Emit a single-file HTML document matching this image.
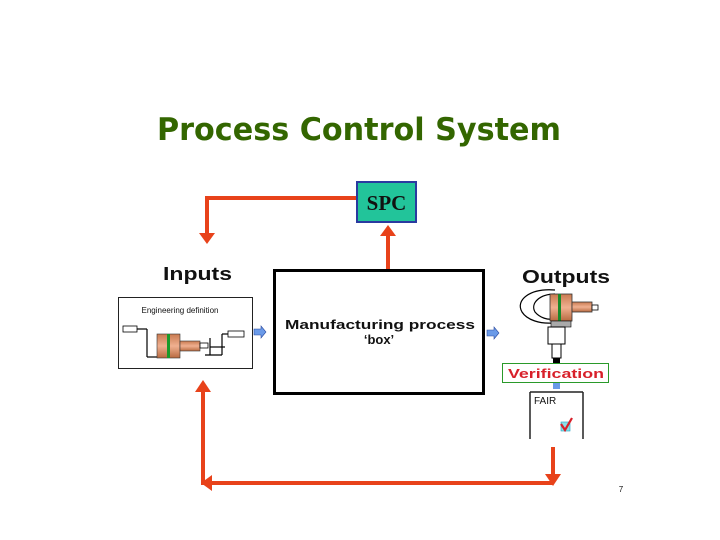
<!DOCTYPE html>
<html><head><style>html,body{margin:0;padding:0;background:#fff}svg{display:block}</style></head><body>
<svg width="720" height="540" viewBox="0 0 720 540" xmlns="http://www.w3.org/2000/svg">
<defs>
<linearGradient id="cu" x1="0" y1="0" x2="0" y2="1"><stop offset="0" stop-color="#c97a50"/><stop offset=".5" stop-color="#f0b090"/><stop offset="1" stop-color="#b86a40"/></linearGradient>
</defs>
<rect width="720" height="540" fill="#fff"/>
<text x="157" y="140" font-family="DejaVu Sans, sans-serif" font-weight="bold" font-size="31" fill="#336600" textLength="404" lengthAdjust="spacingAndGlyphs">Process Control System</text>

<!-- SPC -->
<rect x="357" y="182" width="59" height="40" fill="#22c49a" stroke="#2a3aa0" stroke-width="2"/>
<text x="386.5" y="210" text-anchor="middle" font-family="Liberation Serif, serif" font-weight="bold" font-size="21" fill="#111">SPC</text>

<g stroke="#e8421a" stroke-width="4" fill="none">
<polyline points="356,198 207,198 207,234"/>
<line x1="388" y1="269" x2="388" y2="234"/>
<line x1="553" y1="447" x2="553" y2="476"/>
<polyline points="553,483 203,483 203,390"/>
</g>
<g fill="#e8421a">
<polygon points="199,233 215,233 207,244"/>
<polygon points="380,236 396,236 388,225"/>
<polygon points="545,474 561,474 553,486"/>
<polygon points="212,475 212,491 201,483"/>
<polygon points="195,392 211,392 203,380"/>
</g>

<!-- main box -->
<rect x="274.5" y="270.5" width="209" height="123" fill="#fff" stroke="#000" stroke-width="3"/>
<text x="380" y="329" text-anchor="middle" font-family="Liberation Sans, sans-serif" font-weight="bold" font-size="13" fill="#111" textLength="190" lengthAdjust="spacingAndGlyphs">Manufacturing process</text>
<text x="379" y="344" text-anchor="middle" font-family="Liberation Sans, sans-serif" font-weight="bold" font-size="13" fill="#111">‘box’</text>

<!-- Inputs -->
<text x="163" y="280" font-family="Liberation Sans, sans-serif" font-weight="bold" font-size="18" fill="#111" textLength="69" lengthAdjust="spacingAndGlyphs">Inputs</text>
<rect x="118.5" y="297.5" width="134" height="71" fill="#fff" stroke="#222" stroke-width="1"/>
<text x="180" y="313" text-anchor="middle" font-family="Liberation Sans, sans-serif" font-size="8" fill="#111">Engineering definition</text>
<rect x="123" y="326" width="14" height="6" fill="#fff" stroke="#000" stroke-width=".8"/>
<rect x="228" y="331" width="16" height="6" fill="#fff" stroke="#000" stroke-width=".8"/>
<g stroke="#000" stroke-width="1.2" fill="none">
<line x1="137" y1="329" x2="147" y2="329"/><line x1="147" y1="329" x2="147" y2="357"/><line x1="147" y1="357" x2="160" y2="357"/>
<line x1="210" y1="338" x2="210" y2="355"/><line x1="210" y1="347" x2="225" y2="347"/><line x1="205" y1="355" x2="222" y2="355"/><line x1="222" y1="334" x2="228" y2="334"/><line x1="222" y1="334" x2="222" y2="355"/>
</g>
<rect x="157" y="334" width="23" height="24" fill="url(#cu)" stroke="#333" stroke-width=".6"/>
<rect x="167" y="334" width="3" height="24" fill="#1a9a2a"/>
<rect x="180" y="341" width="20" height="10" fill="url(#cu)" stroke="#333" stroke-width=".6"/>
<rect x="200" y="343" width="8" height="5" fill="#fff" stroke="#000" stroke-width=".8"/>
<polygon points="254,329 261,329 261,326 266,332 261,338 261,335 254,335" fill="#6a9ae8" stroke="#2a4aa0" stroke-width=".6"/>

<!-- Outputs -->
<text x="522" y="283" font-family="Liberation Sans, sans-serif" font-weight="bold" font-size="18" fill="#111" textLength="88" lengthAdjust="spacingAndGlyphs">Outputs</text>
<polygon points="487,330 494,330 494,327 499,333 494,339 494,336 487,336" fill="#6a9ae8" stroke="#2a4aa0" stroke-width=".6"/>
<g stroke="#000" stroke-width="1.2" fill="none">
<path d="M555,290 C530,288 515,300 522,312 C527,320 540,324 553,323"/>
<path d="M555,294 C540,294 530,303 535,312 C540,318 548,320 553,319"/>
</g>
<rect x="550" y="294" width="22" height="27" fill="url(#cu)" stroke="#333" stroke-width=".8"/>
<rect x="558" y="294" width="3" height="27" fill="#1a8a2a"/>
<rect x="572" y="302" width="20" height="10" fill="url(#cu)" stroke="#333" stroke-width=".8"/>
<rect x="592" y="305" width="6" height="5" fill="#fff" stroke="#000" stroke-width=".8"/>
<rect x="551" y="321" width="20" height="6" fill="#aaa" stroke="#000" stroke-width=".6"/>
<rect x="548" y="327" width="17" height="17" fill="#fff" stroke="#000" stroke-width="1"/>
<rect x="552" y="344" width="9" height="14" fill="#fff" stroke="#000" stroke-width="1"/>
<rect x="553" y="358" width="7" height="5" fill="#000"/>
<rect x="502.5" y="363.5" width="106" height="19" fill="#fff" stroke="#2a9a2a" stroke-width="1"/>
<text x="556" y="378" text-anchor="middle" font-family="Liberation Sans, sans-serif" font-weight="bold" font-size="13" fill="#d8202a" textLength="96" lengthAdjust="spacingAndGlyphs">Verification</text>
<rect x="553" y="383" width="7" height="6" fill="#6a9ae8"/>
<rect x="530" y="392" width="53" height="47" fill="#fff"/>
<g stroke="#222" stroke-width="1.5"><line x1="530" y1="392" x2="530" y2="439"/><line x1="583" y1="392" x2="583" y2="439"/><line x1="530" y1="392" x2="583" y2="392"/></g>
<text x="534" y="404" font-family="Liberation Sans, sans-serif" font-size="10" fill="#111">FAIR</text>
<rect x="561" y="422" width="9" height="9" fill="#8ae0e8" stroke="#20a0c0" stroke-width=".6"/>
<path d="M561,424 L565,430 L572,418" stroke="#d8202a" stroke-width="2.2" fill="none"/>

<text x="621" y="492" text-anchor="middle" font-family="Liberation Sans, sans-serif" font-size="8" fill="#111">7</text>
</svg>
</body></html>
